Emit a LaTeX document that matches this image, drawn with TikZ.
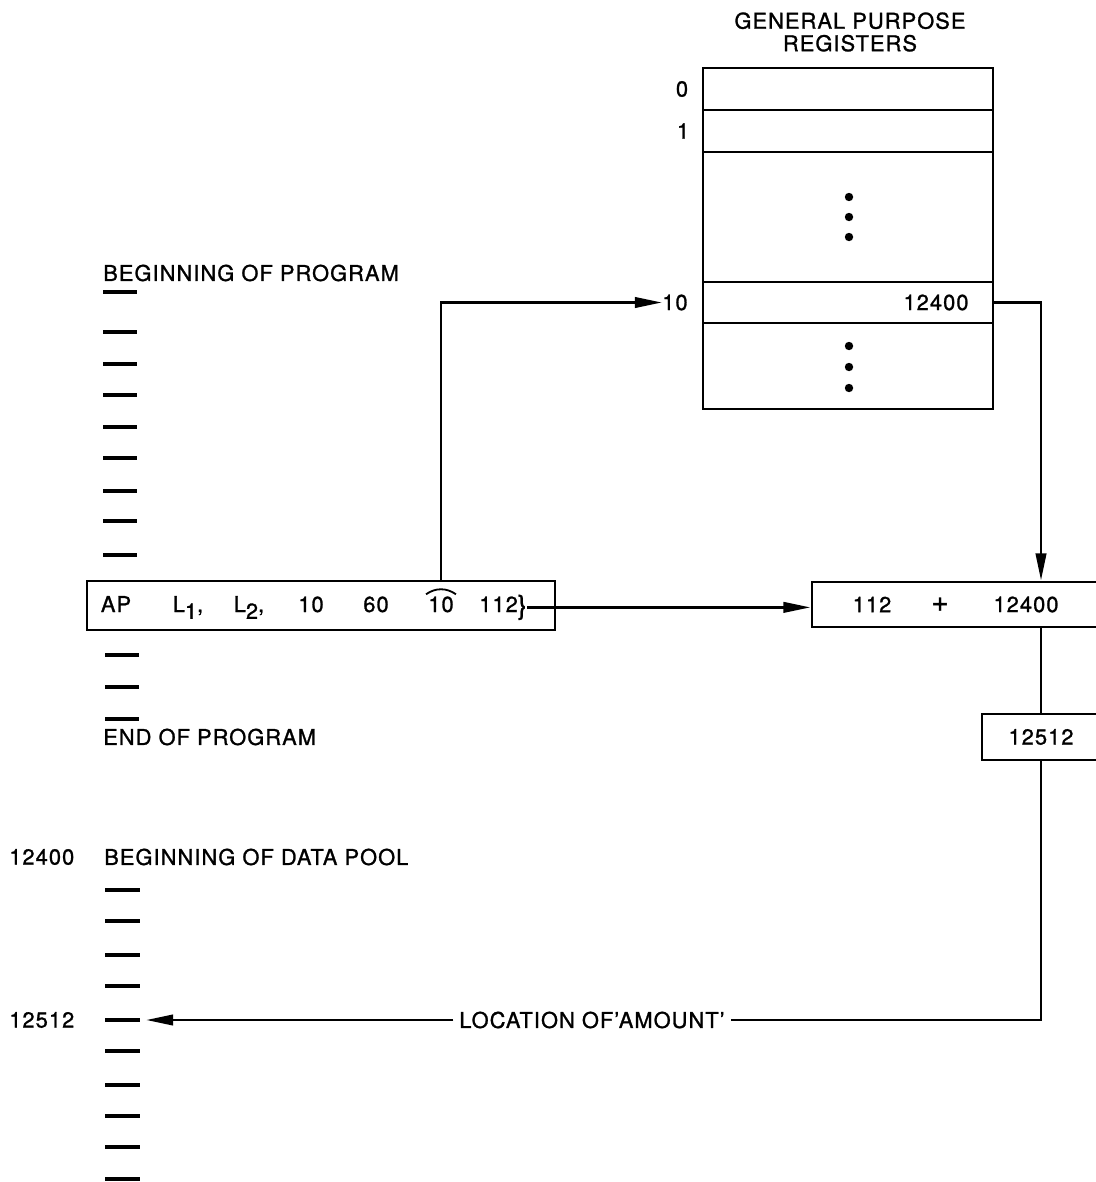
\documentclass[tikz,border=0pt]{standalone}
\usepackage{fontspec}
\setmainfont{TeX Gyre Heros}[LetterSpace=5,FakeBold=1.2]
\usetikzlibrary{arrows.meta}
\newcommand{\lowsub}[1]{\raisebox{-0.6ex}{#1}}
\tikzset{
  box/.style={draw,line width=2pt,inner sep=0pt},
  txt/.style={inner sep=0pt,font=\fontsize{15.5}{16}\selectfont},
  dot/.style={circle,fill,inner sep=0pt,minimum size=0.21cm},
  link/.style={line width=2pt},
  arr/.style={link,-{Triangle[length=6.8mm,width=2.6mm]}},
  tick/.style={line width=2.2pt},
  arcline/.style={line width=1.3pt}
}

\begin{document}
\begin{tikzpicture}[x=0.025cm,y=-0.025cm]
\useasboundingbox (0,0) rectangle (1096,1182);
\clip (0,0) rectangle (1096,1182);
% register file
\node[txt,align=center] (title) at (850,32) {GENERAL PURPOSE\\REGISTERS};
\node[box,minimum width=7.25cm,minimum height=1.05cm] (reg0) at (848,89) {};
\node[box,minimum width=7.25cm,minimum height=1.05cm] (reg1) at (848,131) {};
\node[box,minimum width=7.25cm,minimum height=3.25cm] (regmid) at (848,217) {};
\node[box,minimum width=7.25cm,minimum height=1.025cm] (reg10) at (848,302.5) {};
\node[box,minimum width=7.25cm,minimum height=2.15cm] (reglow) at (848,366) {};
\node[txt] (rlab0) at (682,89) {0};
\node[txt] (rlab1) at (683,131) {1};
\node[txt,anchor=west] (rlab10) at (662,302.5) {10};
\node[txt] (regval) at (936,302.5) {12400};
\node[dot] (d1) at (849,197) {};
\node[dot] (d2) at (849,217) {};
\node[dot] (d3) at (849,237) {};
\node[dot] (d4) at (849,346) {};
\node[dot] (d5) at (849,367) {};
\node[dot] (d6) at (849,388) {};

% program listing
\node[txt,anchor=west] (progbeg) at (103,273) {BEGINNING OF PROGRAM};
\draw[tick] (103,292) -- +(34,0) (103,332) -- +(34,0) (103,364) -- +(34,0)
  (103,395) -- +(34,0) (103,427) -- +(34,0) (103,458) -- +(34,0)
  (103,491) -- +(34,0) (103,521) -- +(34,0) (103,555) -- +(34,0);
\draw[tick] (105,655) -- +(34,0) (105,687) -- +(34,0) (105,719) -- +(34,0);
\node[txt,anchor=west] (progend) at (103,737) {END OF PROGRAM};

% instruction
\node[box,minimum width=11.7cm,minimum height=1.225cm] (instr) at (321,605.5) {};
\node[txt,anchor=base] (ap) at (116,612) {AP};
\node[txt,anchor=base] (lone) at (188,612) {L\lowsub{1},};
\node[txt,anchor=base] (ltwo) at (249,612) {L\lowsub{2},};
\node[txt,anchor=base] (tena) at (311,612) {10};
\node[txt,anchor=base] (sixty) at (376,612) {60};
\node[txt,anchor=base] (tenb) at (441,612) {10};
\node[txt,anchor=base] (disp) at (503,612) {112\raisebox{-0.2ex}{\fontsize{19}{19}\selectfont\}}};
\draw[arcline] ([shift={(-2,-2)}]tenb.north west) to[bend left=35] ([shift={(2,-2)}]tenb.north east);

% address arithmetic
\node[box,minimum width=11.45cm,minimum height=1.125cm] (sumbox) at (1041,604.5) {};
\node[txt] (sumd) at (872,604.5) {112};
\node[txt,font=\fontsize{21}{21}\selectfont] (sumop) at (940,604.5) {+};
\node[txt] (sumb) at (1026,604.5) {12400};
\node[box,txt,minimum width=2.95cm,minimum height=1.15cm] (resbox) at (1041,737) {12512};

% data pool
\node[txt,anchor=west] (pooladr) at (9,857) {12400};
\node[txt,anchor=west] (poolbeg) at (104,857) {BEGINNING OF DATA POOL};
\draw[tick] (105,890) -- +(35,0) (105,921) -- +(35,0) (105,955) -- +(35,0)
  (105,986) -- +(35,0) (105,1020) -- +(35,0) (105,1051) -- +(35,0)
  (105,1085) -- +(35,0) (105,1116) -- +(35,0) (105,1147) -- +(35,0)
  (105,1179) -- +(35,0);
\node[txt,anchor=west] (amtadr) at (9,1020) {12512};
\coordinate (amt) at (146,1020);
\node[txt] (locn) at (592,1020) {LOCATION OF'AMOUNT'};

% connectors
\draw[arr] (tenb.north |- instr.north) |- (rlab10.west);
\draw[arr] (reg10.east) -| (sumbox.north);
\draw[arr] (disp.east) -- (disp.east -| sumbox.west);
\draw[link] (sumbox.south) -- (resbox.north);
\draw[link] (resbox.south) |- ([xshift=4]locn.east);
\draw[arr] ([xshift=-4]locn.west) -- (amt);
\end{tikzpicture}
\end{document}
